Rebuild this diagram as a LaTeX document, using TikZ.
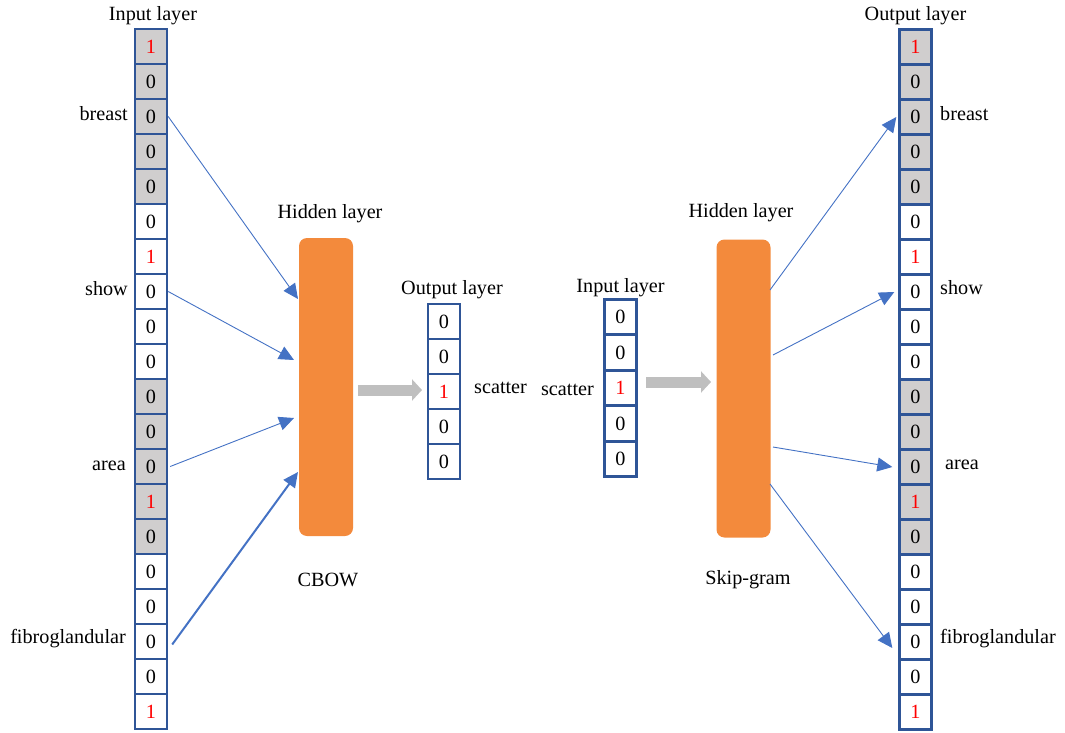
\documentclass[tikz,border=0pt]{standalone}
\usepackage{fontspec}
\setmainfont{Liberation Serif}
\usetikzlibrary{arrows.meta}
\definecolor{boxblue}{HTML}{2F5597}
\definecolor{lineblue}{HTML}{4472C4}
\definecolor{hidorange}{HTML}{F38A3C}
\definecolor{cellgray}{HTML}{D0CECE}
\definecolor{arrgray}{HTML}{BFBFBF}
\definecolor{onered}{HTML}{FF0000}
\begin{document}
\begin{tikzpicture}[x=1pt,y=-1pt,
  font=\fontsize{20.2}{23}\selectfont,
  cw/.style={draw=boxblue, line width=2.4pt, minimum width=32pt, minimum height=35pt, inner sep=0pt, fill=white},
  cwh/.style={cw, text=onered},
  cg/.style={cw, fill=cellgray},
  cgh/.style={cg, text=onered},
  hidden/.style={fill=hidorange, rounded corners=8pt, minimum width=54pt, minimum height=298pt, inner sep=0pt},
  conn/.style={draw=lineblue, line width=0.9pt, -{Triangle[length=15pt,width=14pt]}},
  bigarrow/.style={draw=arrgray, line width=11pt, -{Triangle[length=10pt,width=21pt]}},
  lab/.style={inner sep=0pt}
]
\useasboundingbox (0,0) rectangle (1065,733);

% left input column
\foreach \i/\v/\s in {1/1/cgh,2/0/cg,3/0/cg,4/0/cg,5/0/cg,6/0/cw,7/1/cwh,8/0/cw,9/0/cw,10/0/cw,11/0/cg,12/0/cg,13/0/cg,14/1/cgh,15/0/cg,16/0/cw,17/0/cw,18/0/cw,19/0/cw,20/1/cwh}
  \node[\s] (L\i) at (151,11.5+35*\i) {\v};
% right output column
\foreach \i/\v/\s in {1/1/cgh,2/0/cg,3/0/cg,4/0/cg,5/0/cg,6/0/cw,7/1/cwh,8/0/cw,9/0/cw,10/0/cw,11/0/cg,12/0/cg,13/0/cg,14/1/cgh,15/0/cg,16/0/cw,17/0/cw,18/0/cw,19/0/cw,20/1/cwh}
  \node[\s] (R\i) at (915.5,12+35*\i) {\v};
% middle columns
\foreach \i/\v/\s in {1/0/cw,2/0/cw,3/1/cwh,4/0/cw,5/0/cw}
  \node[\s] (M\i) at (444,286.5+35*\i) {\v};
\foreach \i/\v/\s in {1/0/cw,2/0/cw,3/1/cwh,4/0/cw,5/0/cw}
  \node[\s] (N\i) at (620.5,281.5+35.5*\i) {\v};

% hidden layers
\node[hidden] (HL) at (326,387) {};
\node[hidden] (HR) at (743.5,388.5) {};

% headings
\node[lab,anchor=base] (tInL) at (153,21) {Input layer};
\node[lab,anchor=base] (tOutR) at (915.5,21) {Output layer};
\node[lab,anchor=base] (tHidL) at (330,218) {Hidden layer};
\node[lab,anchor=base] (tHidR) at (741,217) {Hidden layer};
\node[lab,anchor=base] (tOutM) at (452,294) {Output layer};
\node[lab,anchor=base] (tInM) at (620.5,292) {Input layer};
\node[lab,anchor=base] (tCBOW) at (328,586) {CBOW};
\node[lab,anchor=base] (tSkip) at (748,584) {Skip-gram};

% word labels
\node[lab,anchor=base east] (wL3) at (128,121) {breast};
\node[lab,anchor=base east] (wL8) at (128,295) {show};
\node[lab,anchor=base east] (wL13) at (126,470) {area};
\node[lab,anchor=base east] (wL18) at (126,643) {fibroglandular};
\node[lab,anchor=base west] (wR3) at (940,121) {breast};
\node[lab,anchor=base west] (wR8) at (940,294) {show};
\node[lab,anchor=base west] (wR13) at (945,469) {area};
\node[lab,anchor=base west] (wR18) at (940,643) {fibroglandular};
\node[lab,anchor=base west] (wM) at (474,393) {scatter};
\node[lab,anchor=base east] (wN) at (594,395) {scatter};

% connector end points on the hidden layers
\coordinate (hl1) at (298,299);
\coordinate (hl2) at (294,360);
\coordinate (hl3) at (294,418);
\coordinate (hl4) at (298,472);
\coordinate (hr1) at (770,290);
\coordinate (hr2) at (773,355);
\coordinate (hr3) at (773,447);
\coordinate (hr4) at (770,484);

\draw[conn] (L3.east) -- (hl1);
\draw[conn] (L8.east) -- (hl2);
\draw[conn] ([xshift=2pt]L13.east) -- (hl3);
\draw[conn,line width=2pt] ([xshift=4pt,yshift=-3pt]L18.east) -- (hl4);

\draw[conn] (hr1) -- ([xshift=-2pt]R3.west);
\draw[conn] (hr2) -- ([xshift=-4pt]R8.west);
\draw[conn] (hr3) -- ([xshift=-6pt]R13.west);
\draw[conn] (hr4) -- ([xshift=-6pt,yshift=-6pt]R18.west);

% gray arrows
\coordinate (ga1) at (358,390);
\coordinate (ga2) at (422,390);
\coordinate (gb1) at (646,382);
\coordinate (gb2) at (711,382);
\draw[bigarrow] (ga1) -- (ga2);
\draw[bigarrow] (gb1) -- (gb2);
\end{tikzpicture}
\end{document}
